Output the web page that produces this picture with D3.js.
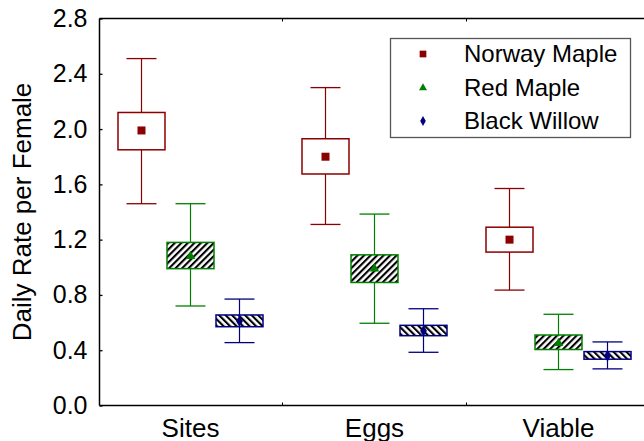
<!DOCTYPE html>
<html><head><meta charset="utf-8">
<script src="https://cdn.jsdelivr.net/npm/d3@7/dist/d3.min.js"></script>
<style>body{margin:0;background:#fff}svg{display:block;font-family:"Liberation Sans",Arial,sans-serif}</style>
</head><body>
<svg id="c" width="644" height="441"></svg>
<script>
const categories = ["Sites", "Eggs", "Viable"];
const species = ["Norway Maple", "Red Maple", "Black Willow"];
const yTicks = [0.0, 0.4, 0.8, 1.2, 1.6, 2.0, 2.4, 2.8];
const meanNM = [1.99, 1.80, 1.20];
const meanRM = [1.08, 0.99, 0.45];
const meanBW = [0.61, 0.54, 0.36];
const boxLoNM = [1.85, 1.675, 1.11], boxHiNM = [2.12, 1.93, 1.29];
const boxLoRM = [0.99, 0.89, 0.405], boxHiRM = [1.18, 1.09, 0.51];
const boxLoBW = [0.57, 0.505, 0.335], boxHiBW = [0.655, 0.58, 0.39];
const whLoNM = [1.46, 1.31, 0.835], whHiNM = [2.51, 2.30, 1.57];
const whLoRM = [0.72, 0.595, 0.26], whHiRM = [1.46, 1.385, 0.66];
const whLoBW = [0.455, 0.385, 0.265], whHiBW = [0.77, 0.70, 0.46];

const colors = {"Norway Maple": "#8b0000", "Red Maple": "#008000", "Black Willow": "#000080"};
const series = [
  {name: "Norway Maple", mean: meanNM, lo: boxLoNM, hi: boxHiNM, wlo: whLoNM, whi: whHiNM, fill: "#fff", marker: d3.symbolSquare, size: 64},
  {name: "Red Maple", mean: meanRM, lo: boxLoRM, hi: boxHiRM, wlo: whLoRM, whi: whHiRM, fill: "url(#hatchF)", marker: d3.symbolTriangle, size: 40},
  {name: "Black Willow", mean: meanBW, lo: boxLoBW, hi: boxHiBW, wlo: whLoBW, whi: whHiBW, fill: "url(#hatchB)", marker: d3.symbolDiamond, size: 40}
];

const svg = d3.select("#c");
const L = 99.5, T = 18.5, B = 405.5;
const x = d3.scaleBand().domain(categories).range([98.5, 650.5]).padding(0);
const off = d3.scalePoint().domain(species).range([-49, 49]);
const y = d3.scaleLinear().domain([0, 2.8]).range([B, T]);

const defs = svg.append("defs");
function hatch(id, angle) {
  const w = 4.6;
  const p = defs.append("pattern").attr("id", id).attr("patternUnits", "userSpaceOnUse")
    .attr("width", w).attr("height", w).attr("patternTransform", `rotate(${angle})`);
  p.append("rect").attr("width", w).attr("height", w).attr("fill", "#fff");
  p.append("rect").attr("x", 0).attr("y", 0).attr("width", 2.1).attr("height", w).attr("fill", "#000");
}
hatch("hatchF", 45);
hatch("hatchB", -45);

// frame lines
const ax = svg.append("g").attr("stroke", "#000").attr("stroke-width", 1.5).attr("fill", "none");
ax.append("line").attr("x1", L).attr("x2", 644).attr("y1", B).attr("y2", B);
ax.append("line").attr("x1", L).attr("x2", 644).attr("y1", T).attr("y2", T);
ax.append("line").attr("x1", L).attr("x2", L).attr("y1", T).attr("y2", B);
// category boundary ticks
categories.slice(1).forEach(c => {
  const xx = x(c);
  ax.append("line").attr("x1", xx).attr("x2", xx).attr("y1", B).attr("y2", B - 3).attr("stroke-width", 1);
  ax.append("line").attr("x1", xx).attr("x2", xx).attr("y1", T).attr("y2", T + 3).attr("stroke-width", 1);
});
// y ticks
const yAxis = d3.axisLeft(y).tickValues(yTicks).tickFormat(d3.format(".1f")).tickSizeInner(-3).tickSizeOuter(0).tickPadding(12);
const yg = svg.append("g").attr("transform", `translate(${L},0)`).call(yAxis);
yg.select(".domain").remove();
yg.selectAll("line").attr("stroke", "#000").attr("stroke-width", 1.3);
yg.selectAll("text").attr("font-size", 25).attr("fill", "#000").attr("font-family", "Liberation Sans, Arial, sans-serif");

// x labels
svg.append("g").selectAll("text").data(categories).join("text")
  .attr("x", d => x(d) + x.bandwidth() / 2).attr("y", 437)
  .attr("text-anchor", "middle").attr("font-size", 26).attr("fill", "#000").text(d => d);

// y title
svg.append("text").attr("transform", `translate(31,${212}) rotate(-90)`)
  .attr("text-anchor", "middle").attr("font-size", 26).attr("fill", "#000").text("Daily Rate per Female");

// boxes
const bw = 47, cw = 30;
series.forEach(s => {
  const col = colors[s.name];
  const g = svg.append("g");
  categories.forEach((c, i) => {
    const cx = x(c) + x.bandwidth() / 2 + off(s.name);
    g.append("line").attr("x1", cx).attr("x2", cx).attr("y1", y(s.whi[i])).attr("y2", y(s.wlo[i]))
      .attr("stroke", col).attr("stroke-width", 1.2);
    [s.whi[i], s.wlo[i]].forEach(v => {
      g.append("line").attr("x1", cx - cw / 2).attr("x2", cx + cw / 2).attr("y1", y(v)).attr("y2", y(v))
        .attr("stroke", col).attr("stroke-width", 1.3);
    });
    g.append("rect").attr("x", cx - bw / 2).attr("width", bw)
      .attr("y", y(s.hi[i])).attr("height", y(s.lo[i]) - y(s.hi[i]))
      .attr("fill", s.fill).attr("stroke", col).attr("stroke-width", 1.5);
    g.append("path").attr("d", d3.symbol().type(s.marker).size(s.size)())
      .attr("transform", `translate(${cx},${y(s.mean[i])})`).attr("fill", col);
  });
});

// legend
const lg = svg.append("g");
lg.append("rect").attr("x", 390.5).attr("y", 38.5).attr("width", 240).attr("height", 99)
  .attr("fill", "#fff").attr("stroke", "#555").attr("stroke-width", 1.3);
const rowY = [54, 88, 121];
series.forEach((s, i) => {
  lg.append("path").attr("d", d3.symbol().type(s.marker).size(s.size * 0.7)())
    .attr("transform", `translate(423,${rowY[i]})`).attr("fill", colors[s.name]);
  lg.append("text").attr("x", 464).attr("y", rowY[i]).attr("dy", "0.35em")
    .attr("font-size", 24).attr("fill", "#000").text(s.name);
});
</script>
</body></html>
